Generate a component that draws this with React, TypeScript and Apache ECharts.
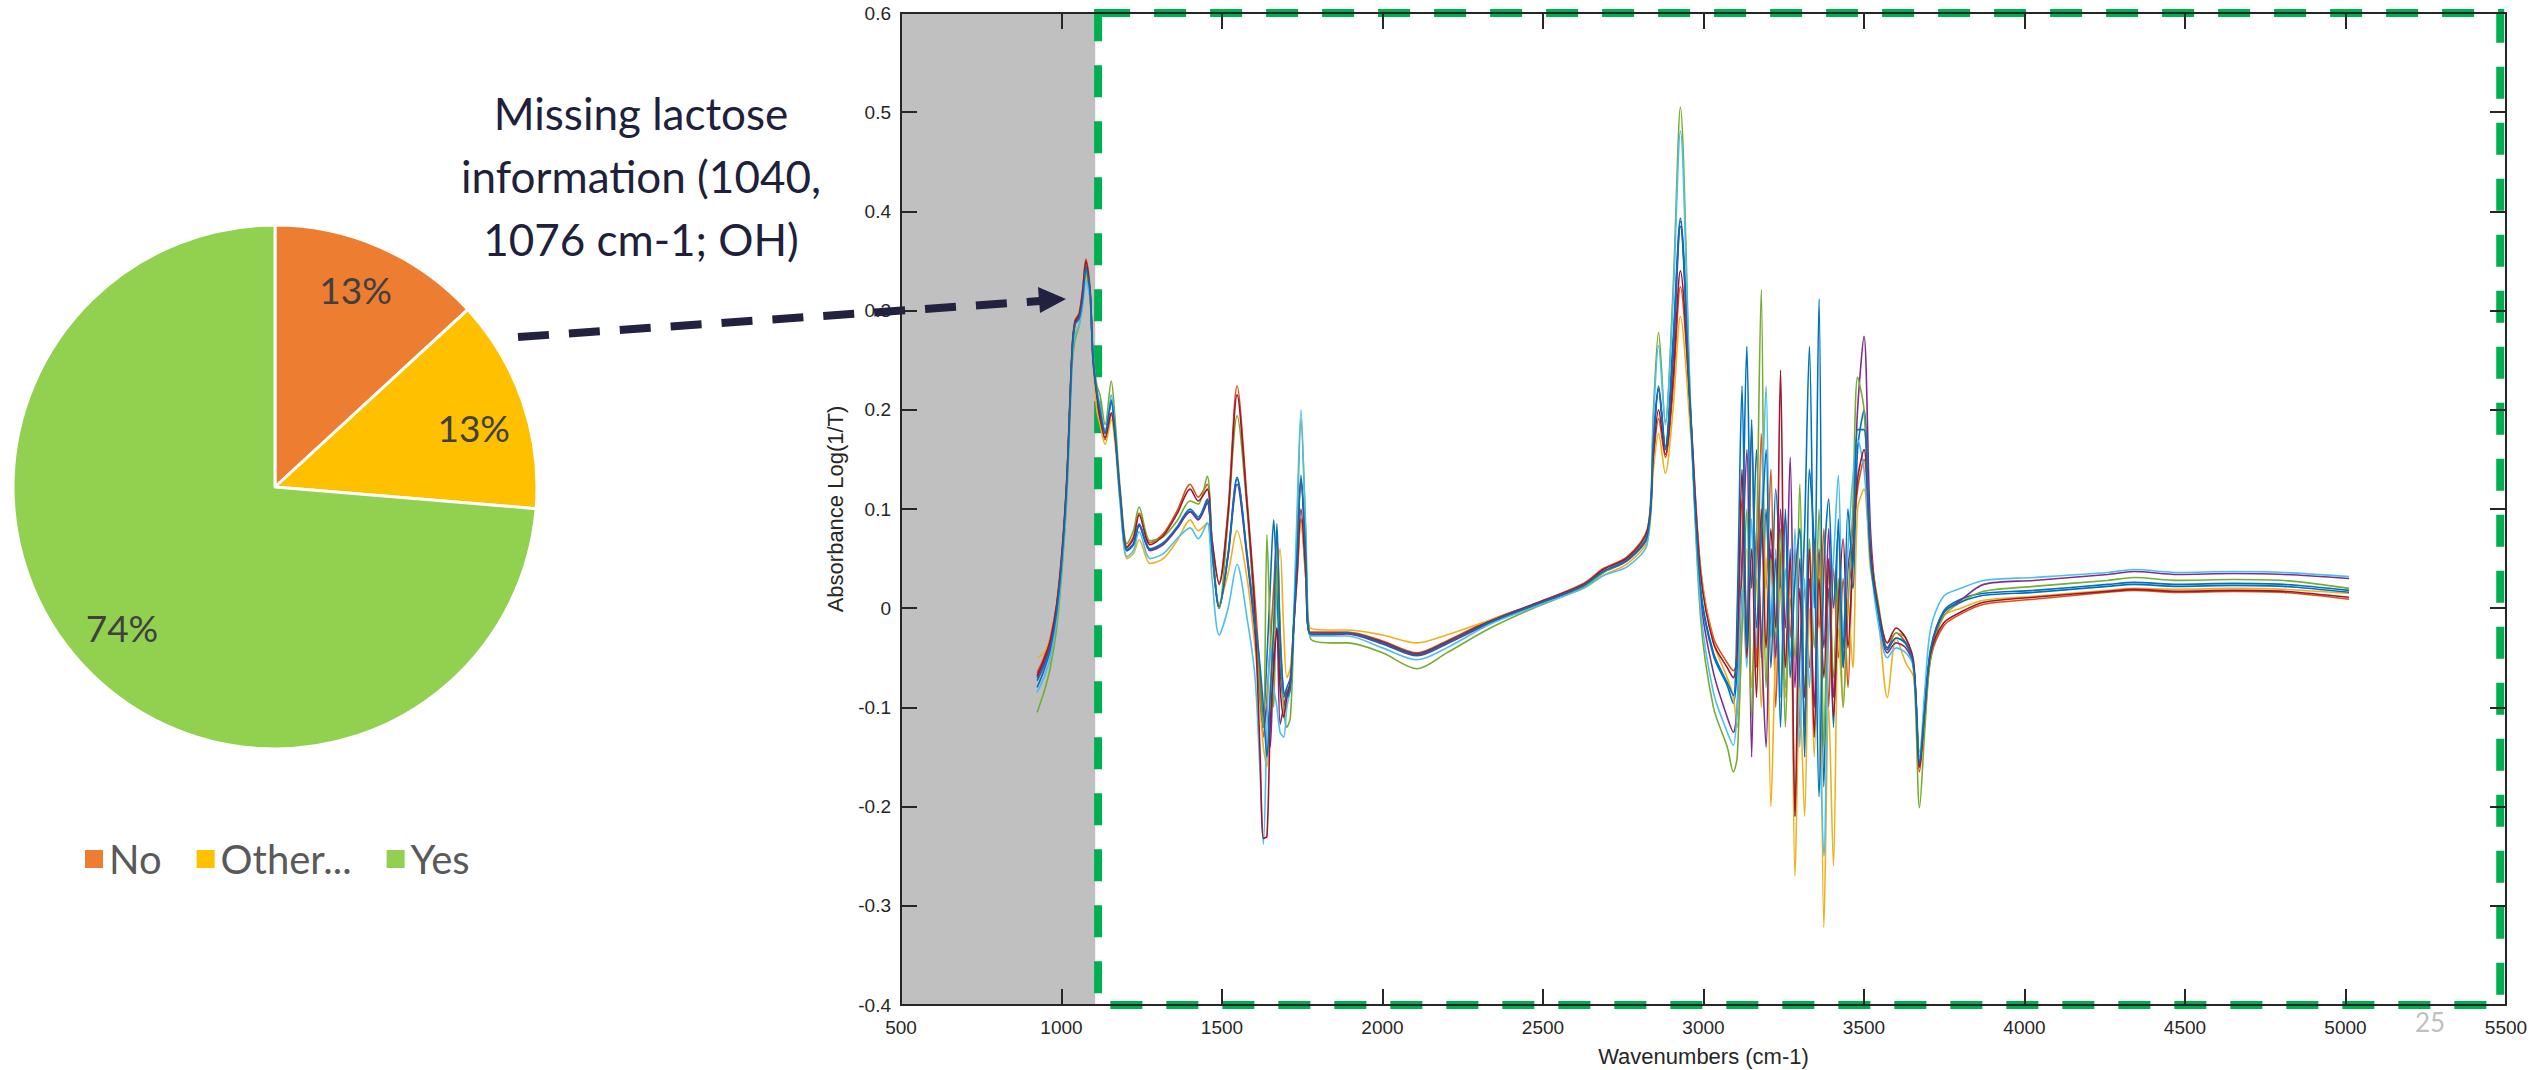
import React, { useEffect, useRef } from "react";
import * as echarts from "echarts";

// ---------- Pie data ----------
const pieCategories = ["No", "Other...", "Yes"];
const pieValues = [5, 5, 28];
const pieColors = ["#ED7D31", "#FFC000", "#92D050"];

// ---------- Annotation ----------
const annotationLines = ["Missing lactose", "information (1040,", "1076 cm-1; OH)"];
const pageNumber = "25";

// ---------- Spectra ----------
const xMin = 500;
const xMax = 5500;
const xStep = 500;
const yMin = -0.4;
const yMax = 0.6;
const yStep = 0.1;
const grayRegion = [500, 1105];
const highlightRegion = [1114, 5482];

const wavenumbers = [
  924, 945, 965, 985, 1002, 1017, 1033, 1042, 1055, 1066, 1076, 1089, 1098, 1110,
  1120, 1136, 1155, 1167, 1183, 1204, 1224, 1242, 1276, 1317, 1360, 1401, 1426, 1454, 1469, 1491, 1519, 1547, 1578, 1600,
  1609, 1619, 1629, 1640, 1650, 1661, 1671, 1681, 1692, 1702, 1713, 1723,
  1734, 1746, 1761, 1775, 1837, 1890, 2000, 2108, 2200, 2336, 2470, 2626, 2688, 2763, 2825, 2844, 2860, 2881, 2905, 2928, 2959, 2991, 3031, 3074, 3093,
  3105, 3120, 3135, 3150, 3165, 3180, 3195, 3210, 3225, 3240, 3255, 3270, 3285, 3300, 3315, 3330, 3345, 3360, 3375, 3390, 3405, 3420, 3435, 3450, 3465, 3480,
  3500, 3520, 3542, 3573, 3600, 3630, 3655, 3673, 3690, 3708, 3748, 3801, 3873, 4029, 4259, 4341, 4478, 4652, 4808, 5011,
];

const spectrumBlue = [
  -0.073, -0.058, -0.038, 0.0, 0.054, 0.13, 0.259, 0.288, 0.294, 0.315, 0.345, 0.319, 0.253, 0.22,
  0.2, 0.178, 0.21, 0.178, 0.113, 0.059, 0.065, 0.084, 0.059, 0.065, 0.081, 0.098, 0.09, 0.108, 0.059, 0.0, 0.054, 0.13, 0.054, -0.01,
  -0.04, -0.08, -0.109, -0.05, 0.02, 0.089, 0.02, -0.06, -0.09, -0.08, -0.07, -0.02,
  0.054, 0.134, 0.054, -0.027, -0.026, -0.025, -0.035, -0.047, -0.035, -0.014, 0.003, 0.023, 0.037, 0.049, 0.073, 0.17, 0.224, 0.163, 0.27, 0.393, 0.2, 0.018, -0.048, -0.078, -0.096,
  -0.06, 0.05, 0.264, 0.02, 0.16, -0.05, 0.1, -0.02, 0.12, 0.03, -0.08, 0.06, -0.21, -0.05, 0.08, 0.264, 0.0, 0.312, -0.18, 0.02, -0.12, 0.09, -0.04, 0.05, 0.02, 0.16,
  0.2, 0.05, 0.0, -0.042, -0.03, -0.036, -0.06, -0.156, -0.1, -0.042, -0.003, 0.009, 0.015, 0.018, 0.024, 0.026, 0.024, 0.025, 0.024, 0.018,
];

const spectrumOrange = [
  -0.065, -0.05, -0.03, 0.005, 0.06, 0.135, 0.262, 0.29, 0.298, 0.322, 0.352, 0.322, 0.255, 0.215,
  0.19, 0.17, 0.195, 0.172, 0.115, 0.062, 0.072, 0.096, 0.066, 0.075, 0.098, 0.125, 0.112, 0.125, 0.07, 0.026, 0.1, 0.224, 0.11, 0.02,
  -0.02, -0.07, -0.13, -0.09, -0.04, 0.02, 0.073, -0.02, -0.085, -0.09, -0.072, -0.02,
  0.03, 0.09, 0.03, -0.024, -0.024, -0.024, -0.033, -0.045, -0.033, -0.012, 0.004, 0.025, 0.04, 0.052, 0.08, 0.15, 0.191, 0.152, 0.22, 0.324, 0.2, 0.04, -0.03, -0.055, -0.063,
  -0.05, 0.11, -0.02, 0.18, -0.06, 0.176, 0.02, 0.14, -0.1, 0.05, 0.09, -0.03, 0.06, -0.12, 0.02, -0.06, 0.07, -0.02, 0.08, -0.1, 0.04, -0.05, 0.03, -0.08, 0.06, 0.12,
  0.15, 0.06, 0.005, -0.04, -0.025, -0.035, -0.06, -0.165, -0.11, -0.05, -0.018, -0.006, 0.004, 0.009, 0.016, 0.018, 0.016, 0.017, 0.016, 0.009,
];

const spectrumYellow = [
  -0.05, -0.045, -0.03, 0.0, 0.05, 0.125, 0.255, 0.28, 0.285, 0.305, 0.335, 0.31, 0.248, 0.2,
  0.185, 0.165, 0.19, 0.165, 0.105, 0.05, 0.055, 0.069, 0.045, 0.05, 0.068, 0.089, 0.078, 0.086, 0.05, 0.005, 0.035, 0.078, 0.03, -0.03,
  -0.06, -0.1, -0.14, -0.16, -0.08, -0.02, 0.03, 0.06, -0.02, -0.07, -0.06, -0.02,
  0.04, 0.086, 0.03, -0.02, -0.022, -0.022, -0.027, -0.035, -0.027, -0.012, 0.003, 0.02, 0.033, 0.045, 0.068, 0.14, 0.176, 0.136, 0.2, 0.294, 0.18, 0.04, -0.035, -0.07, -0.09,
  -0.12, -0.02, 0.06, -0.08, 0.03, -0.1, 0.05, -0.2, -0.04, 0.02, -0.09, 0.04, -0.27, -0.08, -0.21, 0.0, -0.15, 0.05, -0.322, -0.1, -0.26, -0.02, -0.1, 0.01, -0.06, 0.1,
  0.12, 0.04, 0.0, -0.09, -0.03, -0.055, -0.07, -0.145, -0.1, -0.045, -0.008, 0.0, 0.008, 0.012, 0.018, 0.02, 0.019, 0.02, 0.019, 0.015,
];

const spectrumPurple = [
  -0.07, -0.055, -0.036, 0.002, 0.055, 0.13, 0.258, 0.287, 0.293, 0.313, 0.342, 0.316, 0.25, 0.215,
  0.198, 0.176, 0.207, 0.176, 0.112, 0.058, 0.064, 0.083, 0.058, 0.064, 0.08, 0.097, 0.089, 0.106, 0.058, 0.0, 0.052, 0.125, 0.05, -0.015,
  -0.05, -0.09, -0.12, -0.1, -0.14, -0.05, -0.02, -0.117, -0.1, -0.085, -0.075, -0.02,
  0.05, 0.13, 0.05, -0.027, -0.027, -0.026, -0.036, -0.048, -0.036, -0.015, 0.002, 0.022, 0.036, 0.048, 0.072, 0.165, 0.22, 0.16, 0.25, 0.385, 0.2, 0.01, -0.065, -0.11, -0.125,
  -0.1, 0.04, 0.16, -0.15, 0.08, -0.03, -0.14, 0.06, -0.05, 0.1, -0.02, 0.152, -0.08, 0.05, -0.12, 0.03, -0.1, 0.06, -0.04, 0.08, -0.09, 0.02, -0.06, 0.04, 0.08, 0.2,
  0.274, 0.08, 0.0, -0.045, -0.035, -0.04, -0.06, -0.16, -0.1, -0.045, -0.005, 0.008, 0.024, 0.028, 0.034, 0.037, 0.034, 0.035, 0.034, 0.03,
];

const spectrumGreen = [
  -0.105, -0.085, -0.06, -0.02, 0.04, 0.115, 0.245, 0.27, 0.285, 0.31, 0.34, 0.315, 0.255, 0.225,
  0.215, 0.185, 0.229, 0.19, 0.12, 0.065, 0.078, 0.102, 0.068, 0.072, 0.088, 0.108, 0.105, 0.133, 0.065, 0.0, 0.09, 0.194, 0.1, 0.0,
  -0.04, -0.09, -0.12, 0.074, -0.02, -0.1, 0.04, -0.03, -0.1, -0.12, -0.11, -0.03,
  0.08, 0.19, 0.08, -0.03, -0.035, -0.035, -0.045, -0.061, -0.045, -0.02, 0.0, 0.021, 0.036, 0.05, 0.075, 0.2, 0.278, 0.188, 0.32, 0.505, 0.21, -0.01, -0.1, -0.14, -0.165,
  -0.15, -0.02, 0.1, -0.11, 0.06, 0.321, -0.08, 0.05, -0.03, 0.08, -0.12, 0.01, -0.05, 0.125, -0.09, 0.07, -0.04, 0.1, -0.14, 0.04, -0.07, 0.03, -0.1, 0.0, 0.1, 0.233,
  0.2, 0.06, 0.01, -0.035, -0.025, -0.03, -0.065, -0.201, -0.12, -0.05, -0.008, 0.006, 0.017, 0.022, 0.028, 0.031, 0.028, 0.029, 0.028, 0.02,
];

const spectrumCyan = [
  -0.085, -0.07, -0.05, -0.012, 0.045, 0.12, 0.25, 0.275, 0.285, 0.305, 0.33, 0.312, 0.255, 0.22,
  0.205, 0.178, 0.215, 0.175, 0.105, 0.052, 0.058, 0.077, 0.05, 0.055, 0.07, 0.081, 0.07, 0.086, 0.03, -0.027, 0.0, 0.044, -0.01, -0.06,
  -0.1, -0.17, -0.238, -0.12, -0.04, -0.08, -0.1, -0.125, -0.13, -0.1, -0.08, -0.01,
  0.1, 0.2, 0.07, -0.028, -0.028, -0.028, -0.04, -0.052, -0.04, -0.016, 0.001, 0.02, 0.033, 0.042, 0.065, 0.19, 0.265, 0.185, 0.31, 0.481, 0.205, 0.0, -0.085, -0.125, -0.138,
  -0.1, 0.02, -0.06, 0.09, -0.04, 0.08, 0.224, -0.03, 0.06, -0.09, 0.04, -0.05, 0.08, -0.14, 0.03, -0.08, 0.05, -0.1, -0.25, -0.02, 0.05, 0.134, -0.03, 0.06, 0.13, 0.17,
  0.14, 0.05, -0.01, -0.05, -0.04, -0.045, -0.06, -0.15, -0.08, -0.02, 0.012, 0.02, 0.028, 0.031, 0.036, 0.039, 0.036, 0.037, 0.036, 0.032,
];

const spectrumCrimson = [
  -0.068, -0.052, -0.032, 0.003, 0.058, 0.133, 0.26, 0.289, 0.296, 0.32, 0.35, 0.32, 0.254, 0.215,
  0.192, 0.172, 0.197, 0.173, 0.114, 0.061, 0.07, 0.094, 0.064, 0.073, 0.095, 0.12, 0.108, 0.12, 0.068, 0.024, 0.095, 0.215, 0.105, 0.01,
  -0.06, -0.15, -0.232, -0.23, -0.12, -0.06, -0.02, -0.08, -0.11, -0.09, -0.075, -0.02,
  0.035, 0.1, 0.035, -0.025, -0.025, -0.025, -0.034, -0.046, -0.034, -0.013, 0.004, 0.024, 0.039, 0.051, 0.078, 0.155, 0.2, 0.155, 0.23, 0.34, 0.2, 0.035, -0.035, -0.06, -0.07,
  -0.04, 0.14, -0.05, 0.06, -0.09, 0.1, -0.04, 0.08, -0.02, 0.24, -0.06, 0.05, -0.21, 0.02, -0.09, 0.06, -0.13, 0.03, -0.07, 0.05, -0.11, 0.0, 0.07, -0.04, 0.05, 0.13,
  0.16, 0.06, 0.005, -0.035, -0.02, -0.03, -0.055, -0.16, -0.1, -0.045, -0.015, -0.004, 0.006, 0.011, 0.017, 0.019, 0.017, 0.018, 0.017, 0.011,
];

const spectrumBlue2 = [
  -0.08, -0.063, -0.042, -0.004, 0.052, 0.128, 0.256, 0.286, 0.292, 0.312, 0.343, 0.318, 0.252, 0.218,
  0.2, 0.177, 0.209, 0.177, 0.112, 0.058, 0.064, 0.085, 0.06, 0.066, 0.082, 0.1, 0.092, 0.11, 0.06, 0.002, 0.055, 0.132, 0.055, -0.008,
  -0.03, -0.06, -0.1, -0.15, -0.09, -0.02, 0.085, -0.03, -0.085, -0.09, -0.08, -0.02,
  0.055, 0.13, 0.055, -0.026, -0.026, -0.025, -0.035, -0.047, -0.035, -0.014, 0.003, 0.023, 0.037, 0.049, 0.073, 0.17, 0.222, 0.16, 0.26, 0.39, 0.2, 0.02, -0.045, -0.075, -0.088,
  0.0, 0.224, -0.04, 0.19, -0.02, 0.07, 0.16, -0.06, 0.05, -0.12, 0.1, -0.07, 0.03, 0.08, -0.15, 0.14, 0.06, -0.19, 0.04, 0.11, 0.0, 0.08, -0.06, 0.1, 0.04, 0.18,
  0.18, 0.05, 0.0, -0.04, -0.03, -0.035, -0.06, -0.155, -0.1, -0.04, -0.004, 0.006, 0.013, 0.016, 0.022, 0.024, 0.022, 0.023, 0.022, 0.016,
];

const spectra = [
  spectrumBlue,
  spectrumOrange,
  spectrumYellow,
  spectrumPurple,
  spectrumGreen,
  spectrumCyan,
  spectrumCrimson,
  spectrumBlue2,
];
const spectraColors = ["#0072BD", "#D95319", "#EDB120", "#7E2F8E", "#77AC30", "#4DBEEE", "#A2142F", "#0072BD"];

// per-slice label nudges (Excel best-fit placement), in pixels [dx, dy]
const pieLabelNudge = [
  [-3, -7],
  [2, 8],
  [0, 0],
];

const AXIS_COLOR = "#262626";
const AXIS_FONT = "Liberation Sans, Arial, sans-serif";
const TEXT_FONT = "Lato, 'Open Sans', sans-serif";

export default function App() {
  const ref = useRef<HTMLDivElement | null>(null);

  useEffect(() => {
    if (!ref.current) return;
    const chart = echarts.init(ref.current, undefined, { renderer: "svg" });

    const lineSeries = spectra.map((vals, i) => ({
      type: "line",
      name: "spectrum " + (i + 1),
      xAxisIndex: 0,
      yAxisIndex: 0,
      data: wavenumbers.slice(0, vals.length).map((w, j) => [w, vals[j]]),
      showSymbol: false,
      symbol: "none",
      smooth: 0.3,
      silent: true,
      lineStyle: { color: spectraColors[i], width: 1.6 },
      itemStyle: { color: spectraColors[i] },
      z: 2,
    }));

    const pieData = pieCategories.map((n, i) => ({
      name: n,
      value: pieValues[i],
      itemStyle: { color: pieColors[i] },
    }));

    const plainNumber = (v: number) => String(Math.round(v * 1000) / 1000);

    const option: any = {
      animation: false,
      backgroundColor: "#ffffff",
      grid: {
        left: 901,
        top: 13,
        width: 1605,
        height: 992,
        containLabel: false,
        outerBoundsMode: "none",
      },
      legend: {
        left: 78,
        top: 834,
        orient: "horizontal",
        icon: "rect",
        itemWidth: 20,
        itemHeight: 20,
        itemGap: 33,
        selectedMode: false,
        data: pieCategories.map((n, i) => ({ name: n, itemStyle: { color: pieColors[i] } })),
        textStyle: {
          fontFamily: TEXT_FONT,
          fontSize: 40,
          color: "#595959",
        },
      },
      xAxis: [
        {
          type: "value",
          position: "bottom",
          min: xMin,
          max: xMax,
          interval: xStep,
          z: 3,
          axisLine: { show: true, onZero: false, lineStyle: { color: AXIS_COLOR, width: 2 } },
          axisTick: { show: true, inside: true, length: 16, lineStyle: { color: AXIS_COLOR, width: 2 } },
          axisLabel: { margin: 13, fontFamily: AXIS_FONT, fontSize: 19, color: AXIS_COLOR, formatter: plainNumber },
          splitLine: { show: false },
          name: "Wavenumbers (cm-1)",
          nameLocation: "middle",
          nameGap: 40,
          nameTextStyle: { fontFamily: AXIS_FONT, fontSize: 22, color: AXIS_COLOR },
        },
        {
          type: "value",
          position: "top",
          min: xMin,
          max: xMax,
          interval: xStep,
          z: 3,
          axisLine: { show: true, onZero: false, lineStyle: { color: AXIS_COLOR, width: 2 } },
          axisTick: { show: true, inside: true, length: 16, lineStyle: { color: AXIS_COLOR, width: 2 } },
          axisLabel: { show: false },
          splitLine: { show: false },
        },
      ],
      yAxis: [
        {
          type: "value",
          position: "left",
          min: yMin,
          max: yMax,
          interval: yStep,
          z: 3,
          axisLine: { show: true, onZero: false, lineStyle: { color: AXIS_COLOR, width: 2 } },
          axisTick: { show: true, inside: true, length: 16, lineStyle: { color: AXIS_COLOR, width: 2 } },
          axisLabel: { margin: 10, fontFamily: AXIS_FONT, fontSize: 19, color: AXIS_COLOR, formatter: plainNumber },
          splitLine: { show: false },
          name: "Absorbance Log(1/T)",
          nameLocation: "middle",
          nameGap: 55,
          nameRotate: 90,
          nameTextStyle: { fontFamily: AXIS_FONT, fontSize: 22, color: AXIS_COLOR },
        },
        {
          type: "value",
          position: "right",
          min: yMin,
          max: yMax,
          interval: yStep,
          z: 3,
          axisLine: { show: true, onZero: false, lineStyle: { color: AXIS_COLOR, width: 2 } },
          axisTick: { show: true, inside: true, length: 16, lineStyle: { color: AXIS_COLOR, width: 2 } },
          axisLabel: { show: false },
          splitLine: { show: false },
        },
      ],
      series: [
        {
          type: "line",
          name: "gray-region",
          xAxisIndex: 0,
          yAxisIndex: 0,
          data: [],
          clip: false,
          silent: true,
          z: 1,
          markArea: {
            silent: true,
            itemStyle: { color: "#c0c0c0" },
            emphasis: { disabled: true },
            data: [[{ xAxis: grayRegion[0] }, { xAxis: grayRegion[1] }]],
          },
        },
        ...lineSeries,
        {
          type: "line",
          name: "highlight-region",
          xAxisIndex: 0,
          yAxisIndex: 0,
          data: [],
          clip: false,
          silent: true,
          z: 5,
          markArea: {
            silent: true,
            itemStyle: {
              color: "rgba(0,0,0,0)",
              borderColor: "#00B050",
              borderWidth: 8,
              borderType: [32, 24],
            },
            emphasis: { disabled: true },
            data: [[{ xAxis: highlightRegion[0], yAxis: yMax }, { xAxis: highlightRegion[1], yAxis: yMin }]],
          },
        },
        {
          type: "pie",
          name: "pie",
          center: [275, 487],
          radius: 262,
          startAngle: 90,
          clockwise: true,
          silent: true,
          data: pieData,
          label: { show: false },
          labelLine: { show: false },
          itemStyle: { borderColor: "#ffffff", borderWidth: 3 },
          emphasis: { disabled: true },
          z: 2,
        },
        {
          type: "pie",
          name: "pie-labels",
          center: [275, 487],
          radius: 410,
          startAngle: 90,
          clockwise: true,
          silent: true,
          data: pieCategories.map((n, i) => ({
            name: n,
            value: pieValues[i],
            itemStyle: { color: "rgba(0,0,0,0)", borderWidth: 0 },
          })),
          label: {
            show: true,
            position: "inside",
            formatter: (p: any) => Math.round(p.percent) + "%",
            fontFamily: TEXT_FONT,
            fontSize: 37,
            color: "#404040",
          },
          labelLayout: (params: any) => {
            const n = pieLabelNudge[params.dataIndex] || [0, 0];
            return { dx: n[0], dy: n[1] };
          },
          labelLine: { show: false },
          emphasis: { disabled: true },
          z: 3,
        },
      ],
      graphic: [
        ...annotationLines.map((t, i) => ({
          type: "text",
          x: 641,
          y: 113 + i * 63,
          z: 10,
          style: {
            text: t,
            fontFamily: TEXT_FONT,
            fontSize: 44,
            fill: "#201F3C",
            align: "center",
            verticalAlign: "middle",
          },
        })),
        {
          type: "line",
          z: 10,
          shape: { x1: 518, y1: 337, x2: 1040, y2: 301 },
          style: { stroke: "#222140", lineWidth: 8, lineDash: [31, 20] },
        },
        {
          type: "polygon",
          z: 10,
          shape: { points: [[1066, 299], [1038, 287], [1040, 313]] },
          style: { fill: "#222140" },
        },
        {
          type: "text",
          x: 2430,
          y: 1022,
          z: 10,
          style: {
            text: pageNumber,
            fontFamily: TEXT_FONT,
            fontSize: 26,
            fill: "#BFBFBF",
            align: "center",
            verticalAlign: "middle",
          },
        },
      ],
    };

    chart.setOption(option);
    return () => {
      chart.dispose();
    };
  }, []);

  return (
    <div
      ref={ref}
      style={{ position: "fixed", left: 0, top: 0, width: 2539, height: 1070, background: "#fff" }}
    />
  );
}
